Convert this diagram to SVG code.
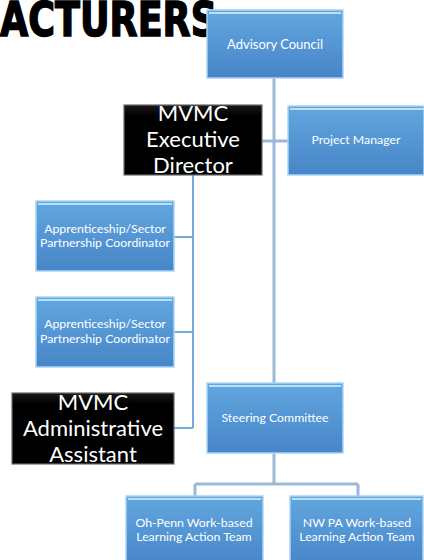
<svg xmlns="http://www.w3.org/2000/svg" width="424" height="560" viewBox="0 0 424 560">
<defs>
<linearGradient id="blue" x1="0" y1="0" x2="0" y2="1">
<stop offset="0" stop-color="#62a7df"/>
<stop offset="1" stop-color="#4785c8"/>
</linearGradient>
<linearGradient id="blk" x1="0" y1="0" x2="0" y2="1">
<stop offset="0" stop-color="#1a1a1a"/>
<stop offset="0.15" stop-color="#000"/>
<stop offset="1" stop-color="#000"/>
</linearGradient>
<clipPath id="cpExec"><rect x="124" y="105" width="138" height="70"/></clipPath>
<clipPath id="cpAdmin"><rect x="12" y="393" width="162" height="71"/></clipPath>
<style>
.b{fill:url(#blue);stroke:#a9d5f5;stroke-width:1.5}
.hl{fill:none;stroke:#b9e0fb;stroke-width:2}
.k{fill:url(#blk);stroke:#6b6b6b;stroke-width:1.2}
.t{font-family:Lato,"Open Sans",sans-serif;font-size:13px;fill:#fff;text-anchor:middle}
.t2{font-family:Lato,"Open Sans",sans-serif;font-size:12.3px;fill:#fff;text-anchor:middle}
.big{font-family:Lato,"Open Sans",sans-serif;font-size:22px;fill:#fff;text-anchor:middle}
.c1{stroke:#9bb8d9;stroke-width:3;fill:none}
.c2{stroke:#78a9dc;stroke-width:2;fill:none}
</style>
</defs>
<text x="0" y="36" font-family="'DejaVu Sans Condensed','Liberation Sans Narrow',sans-serif" font-weight="bold" font-size="48" textLength="217" lengthAdjust="spacingAndGlyphs" fill="#000" stroke="#000" stroke-width="1.5">ACTURERS</text>
<g id="connectors">
<path class="c1" d="M274 78V383"/>
<path class="c1" d="M262 141H288"/>
<path class="c2" d="M193 175V428"/>
<path class="c2" d="M174 237H193M174 332H193M174 428H193"/>
<path class="c1" d="M274 453V484M195 484H358M195 484V496M358 484V496"/>
</g>
<g id="advisory">
<rect class="b" x="207" y="10" width="136" height="68"/>
<path class="hl" d="M209 13H341"/>
<text class="t" x="275" y="49">Advisory Council</text>
</g>
<g id="exec">
<rect class="k" x="124" y="105" width="138" height="70"/>
<g clip-path="url(#cpExec)">
<text class="big" x="193" y="121">MVMC</text>
<text class="big" x="193" y="147">Executive</text>
<text class="big" x="193" y="173">Director</text>
</g>
</g>
<g id="pm">
<rect class="b" x="288" y="106" width="136" height="69"/>
<path class="hl" d="M290 109H424"/>
<text class="t2" x="356" y="144">Project Manager</text>
</g>
<g id="coord1">
<rect class="b" x="36" y="201" width="138" height="70"/>
<path class="hl" d="M38 204H172"/>
<text class="t2" x="105" y="233">Apprenticeship/Sector</text>
<text class="t2" x="105" y="247">Partnership Coordinator</text>
</g>
<g id="coord2">
<rect class="b" x="36" y="297" width="138" height="70"/>
<path class="hl" d="M38 300H172"/>
<text class="t2" x="105" y="328">Apprenticeship/Sector</text>
<text class="t2" x="105" y="343">Partnership Coordinator</text>
</g>
<g id="admin">
<rect class="k" x="12" y="393" width="162" height="71"/>
<g clip-path="url(#cpAdmin)">
<text class="big" x="93" y="410">MVMC</text>
<text class="big" x="93" y="436">Administrative</text>
<text class="big" x="93" y="462">Assistant</text>
</g>
</g>
<g id="steering">
<rect class="b" x="207" y="383" width="136" height="70"/>
<path class="hl" d="M209 386H341"/>
<text class="t2" x="275" y="422">Steering Committee</text>
</g>
<g id="ohpenn">
<rect class="b" x="126" y="496" width="137" height="70"/>
<path class="hl" d="M128 499H261"/>
<text class="t2" x="194" y="527">Oh-Penn Work-based</text>
<text class="t2" x="194" y="541">Learning Action Team</text>
</g>
<g id="nwpa">
<rect class="b" x="290" y="496" width="133" height="70"/>
<path class="hl" d="M292 499H421"/>
<text class="t2" x="357" y="527">NW PA Work-based</text>
<text class="t2" x="357" y="541">Learning Action Team</text>
</g>
</svg>
